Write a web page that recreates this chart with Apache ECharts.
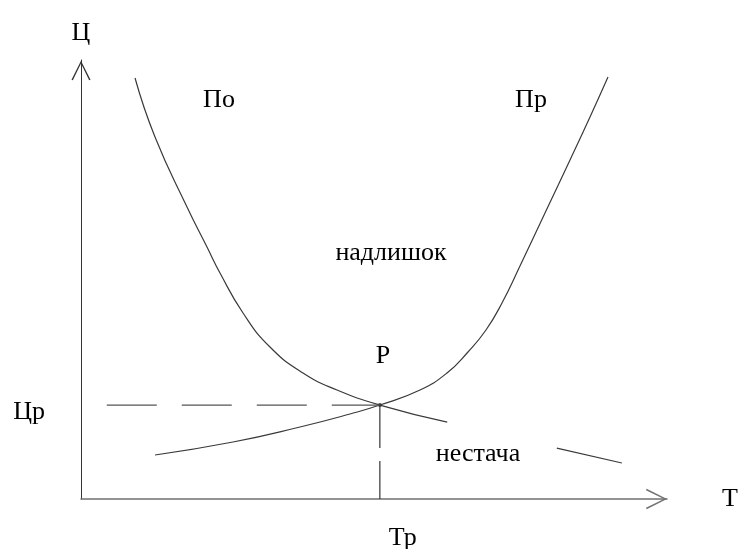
<!DOCTYPE html>
<html>
<head>
<meta charset="utf-8">
<script src="https://cdn.jsdelivr.net/npm/echarts@6/dist/echarts.min.js"></script>
<style>
  html, body { margin: 0; padding: 0; background: #fff; }
  #chart { width: 739px; height: 549px; }
</style>
</head>
<body>
<div id="chart"></div>
<script>
// попит (По): кількість / ціна
var demandT = [9.22, 12.63, 18.09, 21.50, 23.72, 27.65, 32.25, 37.88, 43.69, 51.0, 62.5]
var demandP = [95.9, 82.46, 66.51, 57.40, 51.48, 42.37, 34.62, 28.70, 24.83, 21.4, 17.5]
// хвіст кривої попиту за підписом «нестача»
var demandTailT = [81.2, 92.3]
var demandTailP = [11.6, 8.2]
// пропозиція (Пр)
var supplyT = [12.63, 25.94, 37.37, 45.90, 51.0, 57.85, 62.46, 66.04, 69.11, 71.84, 74.91, 79.18, 83.45, 86.86, 89.93]
var supplyP = [10.02, 12.98, 16.40, 19.36, 21.4, 24.83, 28.70, 33.49, 38.50, 44.65, 53.08, 65.15, 77.22, 87.02, 96.13]
// точка рівноваги P
var eqT = 51.0
var eqP = 21.4
var priceGuideStart = 4.4
var axisNames = ['Т', 'Ц']
var eqLabels = ['Тр', 'Цр']

function pairs (xs, ys) {
  return xs.map(function (x, i) { return [x, ys[i]] })
}

var chart = echarts.init(document.getElementById('chart'))
var serif = 'Liberation Serif'
var arrow = 'path://M10,0 L20,20 L18.6,20.6 L10,3 L1.4,20.6 L0,20 Z'
var curveStyle = { color: '#3a3a3a', width: 1.2 }

function note (text, x, y) {
  return {
    type: 'text',
    x: x,
    y: y,
    style: { text: text, fontFamily: serif, fontSize: 26, fill: '#000', align: 'center', verticalAlign: 'top' }
  }
}

var option = {
  animation: false,
  backgroundColor: '#fff',
  grid: { left: 81, right: 72, top: 60, bottom: 50, outerBoundsMode: 'none' },
  xAxis: {
    type: 'value',
    min: 0,
    max: 100,
    name: axisNames[0],
    nameLocation: 'end',
    nameGap: 55,
    nameTextStyle: { fontFamily: serif, fontSize: 26, color: '#000', padding: [0, 0, 6, 0] },
    axisLine: {
      lineStyle: { color: '#707070', width: 1.5 },
      symbol: ['none', arrow],
      symbolSize: [22, 21],
      symbolOffset: [0, -10.5]
    },
    axisTick: { show: false },
    splitLine: { show: false },
    axisLabel: {
      customValues: [eqT],
      formatter: function () { return eqLabels[0] },
      fontFamily: serif,
      fontSize: 26,
      color: '#000',
      margin: 26,
      align: 'left',
      padding: [0, 0, 0, 9]
    }
  },
  yAxis: {
    type: 'value',
    min: 0,
    max: 100,
    name: axisNames[1],
    nameLocation: 'end',
    nameGap: 14,
    nameTextStyle: { fontFamily: serif, fontSize: 26, color: '#000' },
    axisLine: {
      lineStyle: { color: '#333', width: 1 },
      symbol: ['none', arrow],
      symbolSize: [19, 21],
      symbolOffset: [0, -10.5]
    },
    axisTick: { show: false },
    splitLine: { show: false },
    axisLabel: {
      customValues: [eqP],
      formatter: function () { return eqLabels[1] },
      fontFamily: serif,
      fontSize: 26,
      color: '#000',
      margin: 36,
      verticalAlign: 'top',
      lineHeight: 14
    }
  },
  graphic: [
    note('По', 219, 87),
    note('Пр', 531, 87),
    note('надлишок', 391, 240),
    note('Р', 383, 343),
    note('нестача', 478, 441)
  ],
  series: [
    {
      name: 'По',
      type: 'line',
      smooth: 0.5,
      showSymbol: false,
      lineStyle: curveStyle,
      data: pairs(demandT, demandP)
    },
    {
      name: 'По (хвіст)',
      type: 'line',
      showSymbol: false,
      lineStyle: curveStyle,
      data: pairs(demandTailT, demandTailP)
    },
    {
      name: 'Пр',
      type: 'line',
      smooth: 0.5,
      showSymbol: false,
      lineStyle: curveStyle,
      data: pairs(supplyT, supplyP)
    },
    {
      name: 'Цр',
      type: 'line',
      showSymbol: false,
      lineStyle: { color: '#555', width: 1.2, type: [50, 25] },
      data: [[priceGuideStart, eqP], [eqT, eqP]]
    },
    {
      name: 'Тр',
      type: 'line',
      showSymbol: false,
      lineStyle: { color: '#333', width: 1.2, type: [43, 13] },
      data: [[eqT, eqP], [eqT, 0]]
    },
    {
      name: 'P',
      type: 'scatter',
      symbolSize: 4,
      itemStyle: { color: '#222' },
      data: [[eqT, eqP]]
    }
  ]
}

chart.setOption(option)
</script>
</body>
</html>
